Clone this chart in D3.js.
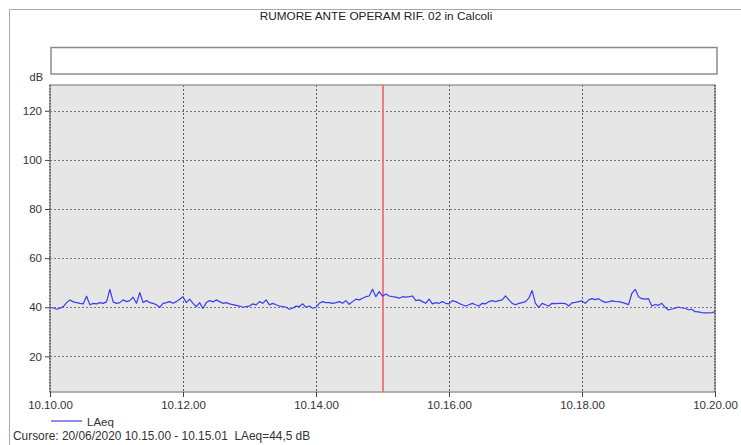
<!DOCTYPE html>
<html>
<head>
<meta charset="utf-8">
<script src="https://cdn.jsdelivr.net/npm/d3@7"></script>
<style>
  html, body { margin: 0; padding: 0; background: #fff; }
  svg { display: block; font-family: "Liberation Sans", Arial, sans-serif; }
</style>
</head>
<body>
<svg id="chart" width="741" height="445"></svg>
<script>
// Sound level record, one LAeq sample every 3 seconds from 10.10.00 to 10.20.00
const title = "RUMORE ANTE OPERAM RIF. 02 in Calcoli";
const seriesName = "LAeq";
const unitLabel = "dB";
const recordDate = "20/06/2020";
const startClock = [10, 10, 0];
const stepSeconds = 3;
const xTickSeconds = [0, 120, 240, 360, 480, 600];
const xTickLabels = ["10.10.00", "10.12.00", "10.14.00", "10.16.00", "10.18.00", "10.20.00"];
const yTicks = [20, 40, 60, 80, 100, 120];
const cursorSecond = 300;

const laeq = [
  40.0, 39.7, 39.2, 39.6, 40.3, 41.9, 43.0, 42.2, 41.9, 41.6,
  41.4, 44.5, 41.0, 41.6, 41.4, 41.9, 41.6, 42.2, 47.3, 42.2,
  41.6, 41.9, 43.0, 42.3, 42.7, 44.1, 41.6, 46.0, 41.9, 42.7,
  41.9, 41.6, 41.0, 40.0, 41.6, 41.9, 42.3, 41.6, 42.3, 43.3,
  44.3, 41.9, 43.3, 41.6, 40.3, 41.9, 39.5, 41.9, 42.7, 42.2,
  43.0, 42.3, 41.6, 41.9, 41.4, 41.1, 40.8, 40.5, 40.0, 40.3,
  40.5, 41.4, 41.0, 42.3, 41.6, 43.0, 41.0, 41.6, 41.0, 40.5,
  40.3, 40.0, 39.2, 39.6, 40.5, 40.3, 41.4, 40.0, 40.5, 39.6,
  40.0, 41.6, 42.3, 41.9, 41.9, 41.6, 41.9, 42.3, 41.6, 42.7,
  41.2, 42.3, 43.3, 43.0, 43.7, 44.3, 44.6, 47.3, 44.3, 46.4,
  44.5, 45.4, 44.6, 44.3, 44.1, 43.7, 44.3, 44.1, 44.3, 44.6,
  42.7, 43.0, 42.3, 41.6, 43.3, 41.4, 41.9, 41.6, 42.3, 41.6,
  41.4, 42.7, 42.3, 41.6, 41.0, 40.5, 41.0, 41.6, 41.0, 40.5,
  41.6, 41.4, 42.3, 42.7, 42.3, 42.7, 43.0, 44.6, 43.0, 41.6,
  41.0, 41.6, 41.9, 42.3, 43.7, 46.8, 41.6, 40.0, 41.6, 41.0,
  40.5, 41.6, 41.5, 41.6, 41.6, 41.5, 40.5, 41.8, 42.0, 42.3,
  42.6, 41.6, 43.0, 43.5, 43.1, 43.5, 42.6, 42.0, 42.2, 42.6,
  42.4, 42.3, 42.0, 41.6, 41.1, 45.7, 47.3, 44.3, 43.5, 43.3,
  43.5, 40.5, 41.1, 40.8, 41.6, 40.0, 38.9, 39.3, 39.6, 40.1,
  39.7, 39.6, 39.0, 39.2, 38.2, 38.1, 37.8, 37.7, 37.7, 37.8,
  38.1
];

const svg = d3.select("#chart");

const plot = { left: 50, right: 715, top: 85, bottom: 392 };

const x = d3.scaleLinear().domain([0, 600]).range([plot.left, plot.right]);
const y = d3.scaleLinear().domain([5.5, 130.5]).range([plot.bottom, plot.top]);

// outer panel frame
svg.append("rect")
  .attr("x", 9.5).attr("y", 9.5).attr("width", 800).attr("height", 500)
  .attr("fill", "none").attr("stroke", "#a8a8a8").attr("stroke-width", 1);

// title
svg.append("text")
  .attr("x", 376).attr("y", 20)
  .attr("text-anchor", "middle")
  .attr("font-size", 11.8).attr("fill", "#222")
  .text(title);

// empty header box above the plot
svg.append("rect")
  .attr("x", 51).attr("y", 47.5).attr("width", 666).attr("height", 26.5)
  .attr("fill", "#fff").attr("stroke", "#8a8a8a").attr("stroke-width", 1.5);

// unit label
svg.append("text")
  .attr("x", 43).attr("y", 81)
  .attr("text-anchor", "end")
  .attr("font-size", 11).attr("fill", "#333")
  .text(unitLabel);

// plot background
svg.append("rect")
  .attr("x", plot.left).attr("y", plot.top)
  .attr("width", plot.right - plot.left).attr("height", plot.bottom - plot.top)
  .attr("fill", "#e6e6e6");

// horizontal grid
svg.append("g").selectAll("line").data(yTicks).join("line")
  .attr("x1", plot.left).attr("x2", plot.right)
  .attr("y1", d => Math.round(y(d)) + 0.5).attr("y2", d => Math.round(y(d)) + 0.5)
  .attr("stroke", "#7a7a7a").attr("stroke-width", 1).attr("stroke-dasharray", "2,2");

// vertical grid
svg.append("g").selectAll("line").data(xTickSeconds.slice(1, -1)).join("line")
  .attr("x1", d => Math.round(x(d)) + 0.5).attr("x2", d => Math.round(x(d)) + 0.5)
  .attr("y1", plot.top).attr("y2", plot.bottom)
  .attr("stroke", "#5a5a5a").attr("stroke-width", 1).attr("stroke-dasharray", "2,2");

// plot border
svg.append("rect")
  .attr("x", plot.left).attr("y", plot.top)
  .attr("width", plot.right - plot.left).attr("height", plot.bottom - plot.top)
  .attr("fill", "none").attr("stroke", "#9a9a9a").attr("stroke-width", 1.5);

// ruler-like dotted side edges
[plot.left, plot.right].forEach(px => {
  svg.append("line")
    .attr("x1", px).attr("x2", px).attr("y1", plot.top).attr("y2", plot.bottom)
    .attr("stroke", "#555").attr("stroke-width", 1.5).attr("stroke-dasharray", "1.5,1.5");
});

// cursor
svg.append("line")
  .attr("x1", Math.round(x(cursorSecond))).attr("x2", Math.round(x(cursorSecond)))
  .attr("y1", plot.top).attr("y2", plot.bottom)
  .attr("stroke", "#f07070").attr("stroke-width", 1.8);

// LAeq trace
const line = d3.line()
  .x((d, i) => x(i * stepSeconds))
  .y(d => y(d));

svg.append("path")
  .datum(laeq)
  .attr("d", line)
  .attr("fill", "none")
  .attr("stroke", "#3b3bf5")
  .attr("stroke-width", 1.2)
  .attr("stroke-linejoin", "round");

// y axis
const yAxis = d3.axisLeft(y).tickValues(yTicks).tickSize(5).tickPadding(3).tickFormat(d3.format("d"));
const gy = svg.append("g").attr("transform", `translate(${plot.left},0)`).call(yAxis);
gy.select(".domain").remove();
gy.selectAll(".tick line").attr("stroke", "#444");
gy.selectAll(".tick text").attr("font-size", 11.5).attr("fill", "#333")
  .attr("font-family", "'Liberation Sans', Arial, sans-serif");

// x axis
const xAxis = d3.axisBottom(x).tickValues(xTickSeconds).tickSize(5).tickPadding(4)
  .tickFormat((d, i) => xTickLabels[i]);
const gx = svg.append("g").attr("transform", `translate(0,${plot.bottom})`).call(xAxis);
gx.select(".domain").remove();
gx.selectAll(".tick line").attr("stroke", "#444");
gx.selectAll(".tick text").attr("font-size", 11.5).attr("fill", "#333")
  .attr("font-family", "'Liberation Sans', Arial, sans-serif");

// legend
svg.append("line")
  .attr("x1", 51).attr("x2", 82).attr("y1", 421).attr("y2", 421)
  .attr("stroke", "#8c8cf2").attr("stroke-width", 2);
svg.append("text")
  .attr("x", 87).attr("y", 425.5)
  .attr("font-size", 11.5).attr("fill", "#333")
  .text(seriesName);

// cursor readout
const pad = n => String(n).padStart(2, "0");
const clockAt = s => {
  const total = startClock[0] * 3600 + startClock[1] * 60 + startClock[2] + s;
  return `${Math.floor(total / 3600)}.${pad(Math.floor(total / 60) % 60)}.${pad(total % 60)}`;
};
const cursorValue = laeq[cursorSecond / stepSeconds].toFixed(1).replace(".", ",");
svg.append("text")
  .attr("x", 13).attr("y", 440)
  .attr("font-size", 11.9).attr("fill", "#333")
  .attr("xml:space", "preserve")
  .style("white-space", "pre")
  .text(`Cursore: ${recordDate} ${clockAt(cursorSecond)} - ${clockAt(cursorSecond + 1)}  ${seriesName}=${cursorValue} ${unitLabel}`);
</script>
</body>
</html>
